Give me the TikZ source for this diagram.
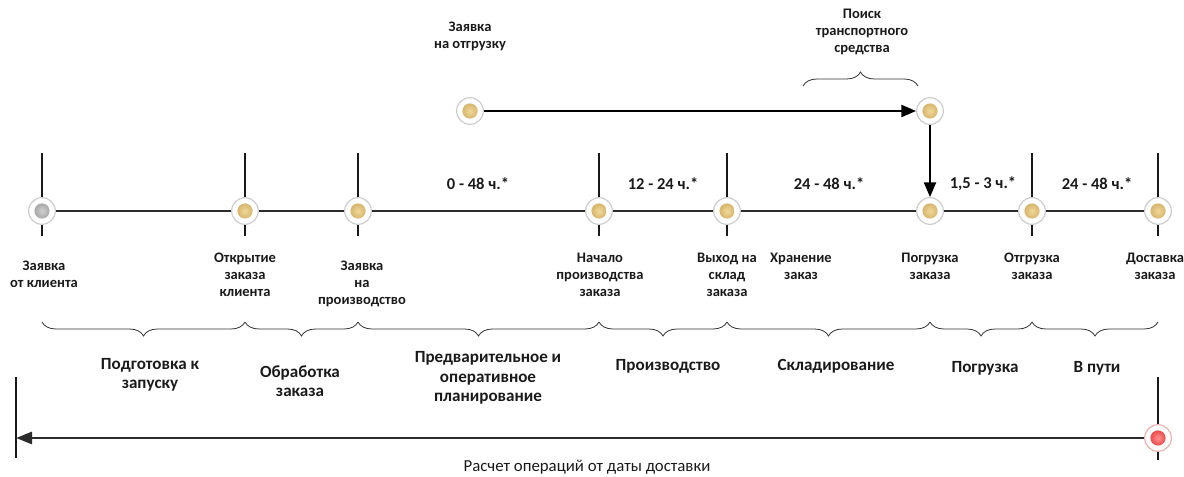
\documentclass[tikz,border=0pt]{standalone}
\usepackage{fontspec}
\setmainfont{Carlito}
\usetikzlibrary{decorations.pathreplacing,arrows.meta}
\definecolor{gold1}{HTML}{F0D898}
\definecolor{gold2}{HTML}{C49C50}
\definecolor{gray1}{HTML}{D0D0D0}
\definecolor{gray2}{HTML}{8C8C8C}
\definecolor{red1}{HTML}{FF9090}
\definecolor{red2}{HTML}{E01818}
\definecolor{ringc}{HTML}{CDCDCD}
\definecolor{ringr}{HTML}{E8B4B4}
\definecolor{linec}{HTML}{2C2C2C}
\definecolor{txt}{HTML}{1A1A1A}
\begin{document}
\begin{tikzpicture}[x=0.75pt,y=-0.75pt,
  ring/.style={circle, draw=ringc, fill=white, line width=0.9pt, minimum size=20pt, inner sep=0pt},
  golddot/.style={ring, path picture={\shade[inner color=gold1, outer color=gold2] (path picture bounding box.center) circle (5.7pt);}},
  graydot/.style={ring, path picture={\shade[inner color=gray1, outer color=gray2] (path picture bounding box.center) circle (5.7pt);}},
  reddot/.style={ring, draw=ringr, path picture={\shade[inner color=red1, outer color=red2] (path picture bounding box.center) circle (5.7pt);}},
  timeline/.style={draw=linec, line width=2.2pt},
  tickline/.style={draw=black!90, line width=1.5pt},
  arr/.style={draw=black, line width=1.5pt, -{Triangle[length=11pt,width=9pt]}},
  bracel/.style={decorate, decoration={brace, mirror, amplitude=10.5pt}, draw=black!80, line width=0.6pt},
  braceu/.style={decorate, decoration={brace, amplitude=10.5pt}, draw=black!80, line width=0.6pt},
  lbl/.style={font=\bfseries\fontsize{10.9}{12.75}\selectfont, align=center, text=txt, inner sep=0pt},
  dur/.style={font=\bfseries\fontsize{12.4}{14}\selectfont, align=center, text=txt, inner sep=0pt},
  grp/.style={font=\bfseries\fontsize{12.8}{14.5}\selectfont, align=center, text=txt, inner sep=0pt},
  note/.style={font=\fontsize{12.6}{14}\selectfont, text=txt, inner sep=0pt}
]
\useasboundingbox (0,0) rectangle (1184,477);

% tick coordinates
\foreach \n/\x in {1/42,2/245,3/358,4/599,5/727,7/1032,8/1158}{
  \coordinate (tt\n) at (\x,153);
  \coordinate (tb\n) at (\x,236);
  \draw[tickline] (tt\n) -- (tb\n);
}

% main dots
\node[graydot] (d1) at (42,211) {};
\node[golddot] (d2) at (245,211) {};
\node[golddot] (d3) at (358,211) {};
\node[golddot] (d4) at (599,211) {};
\node[golddot] (d5) at (727,211) {};
\node[golddot] (d6) at (930,211) {};
\node[golddot] (d7) at (1032,211) {};
\node[golddot] (d8) at (1158,211) {};

% top dots
\node[golddot] (u1) at (470,111) {};
\node[golddot] (u2) at (930,111) {};

% timeline
\draw[timeline] (d1) -- (d2);
\draw[timeline] (d2) -- (d3);
\draw[timeline] (d3) -- (d4);
\draw[timeline] (d4) -- (d5);
\draw[timeline] (d5) -- (d6);
\draw[timeline] (d6) -- (d7);
\draw[timeline] (d7) -- (d8);

% arrows
\draw[arr] (u1) -- (u2);
\draw[arr] (u2) -- (d6);

% top labels
\node[lbl] (tl1) at (470,36) {Заявка\\на отгрузку};
\node[lbl] (tl2) at (862,32) {Поиск\\транспортного\\средства};
\coordinate (tb0a) at (803,86);
\coordinate (tb0b) at (918,86);
\draw[braceu] (tb0a) -- (tb0b);

% durations
\node[dur] (du1) at (478,184) {0 - 48 ч.*};
\node[dur] (du2) at (663,184) {12 - 24 ч.*};
\node[dur] (du3) at (829,184) {24 - 48 ч.*};
\node[dur] (du4) at (983,184) {1,5 - 3 ч.*};
\node[dur] (du5) at (1097,184) {24 - 48 ч.*};

% point labels
\node[lbl] (l1) at (44,274) {Заявка\\от клиента};
\node[lbl] (l2) at (245,275) {Открытие\\заказа\\клиента};
\node[lbl] (l3) at (362,284) {Заявка\\на\\производство};
\node[lbl] (l4) at (600,275) {Начало\\производства\\заказа};
\node[lbl] (l5) at (727,275) {Выход на\\склад\\заказа};
\node[lbl] (l6) at (801,266) {Хранение\\заказ};
\node[lbl] (l7) at (930,266) {Погрузка\\заказа};
\node[lbl] (l8) at (1032,266) {Отгрузка\\заказа};
\node[lbl] (l9) at (1155,266) {Доставка\\заказа};

% lower braces
\foreach \n/\x in {0/42,1/245,2/358,3/599,4/727,5/930,6/1032,7/1158}{
  \coordinate (b\n) at (\x,322);
}
\draw[bracel] (b0) -- (b1);
\draw[bracel] (b1) -- (b2);
\draw[bracel] (b2) -- (b3);
\draw[bracel] (b3) -- (b4);
\draw[bracel] (b4) -- (b5);
\draw[bracel] (b5) -- (b6);
\draw[bracel] (b6) -- (b7);

% group labels
\node[grp] (g1) at (150,375) {Подготовка к\\запуску};
\node[grp] (g2) at (300,381) {Обработка\\заказа};
\node[grp] (g3) at (488,378) {Предварительное и\\оперативное\\планирование};
\node[grp] (g4) at (668,366) {Производство};
\node[grp] (g5) at (836,366) {Складирование};
\node[grp] (g6) at (985,368) {Погрузка};
\node[grp] (g7) at (1097,368) {В пути};

% bottom
\coordinate (lbT) at (16,377);
\coordinate (lbB) at (16,458);
\coordinate (lbM) at (16,438);
\coordinate (rbT) at (1158,377);
\coordinate (rbB) at (1158,460);
\draw[tickline] (lbT) -- (lbB);
\draw[tickline] (rbT) -- (rbB);
\node[reddot] (rd) at (1158,438) {};
\draw[timeline, -{Triangle[length=12pt,width=9pt]}] (rd) -- (lbM);
\node[note] (bn) at (587,467) {Расчет операций от даты доставки};
\end{tikzpicture}
\end{document}
